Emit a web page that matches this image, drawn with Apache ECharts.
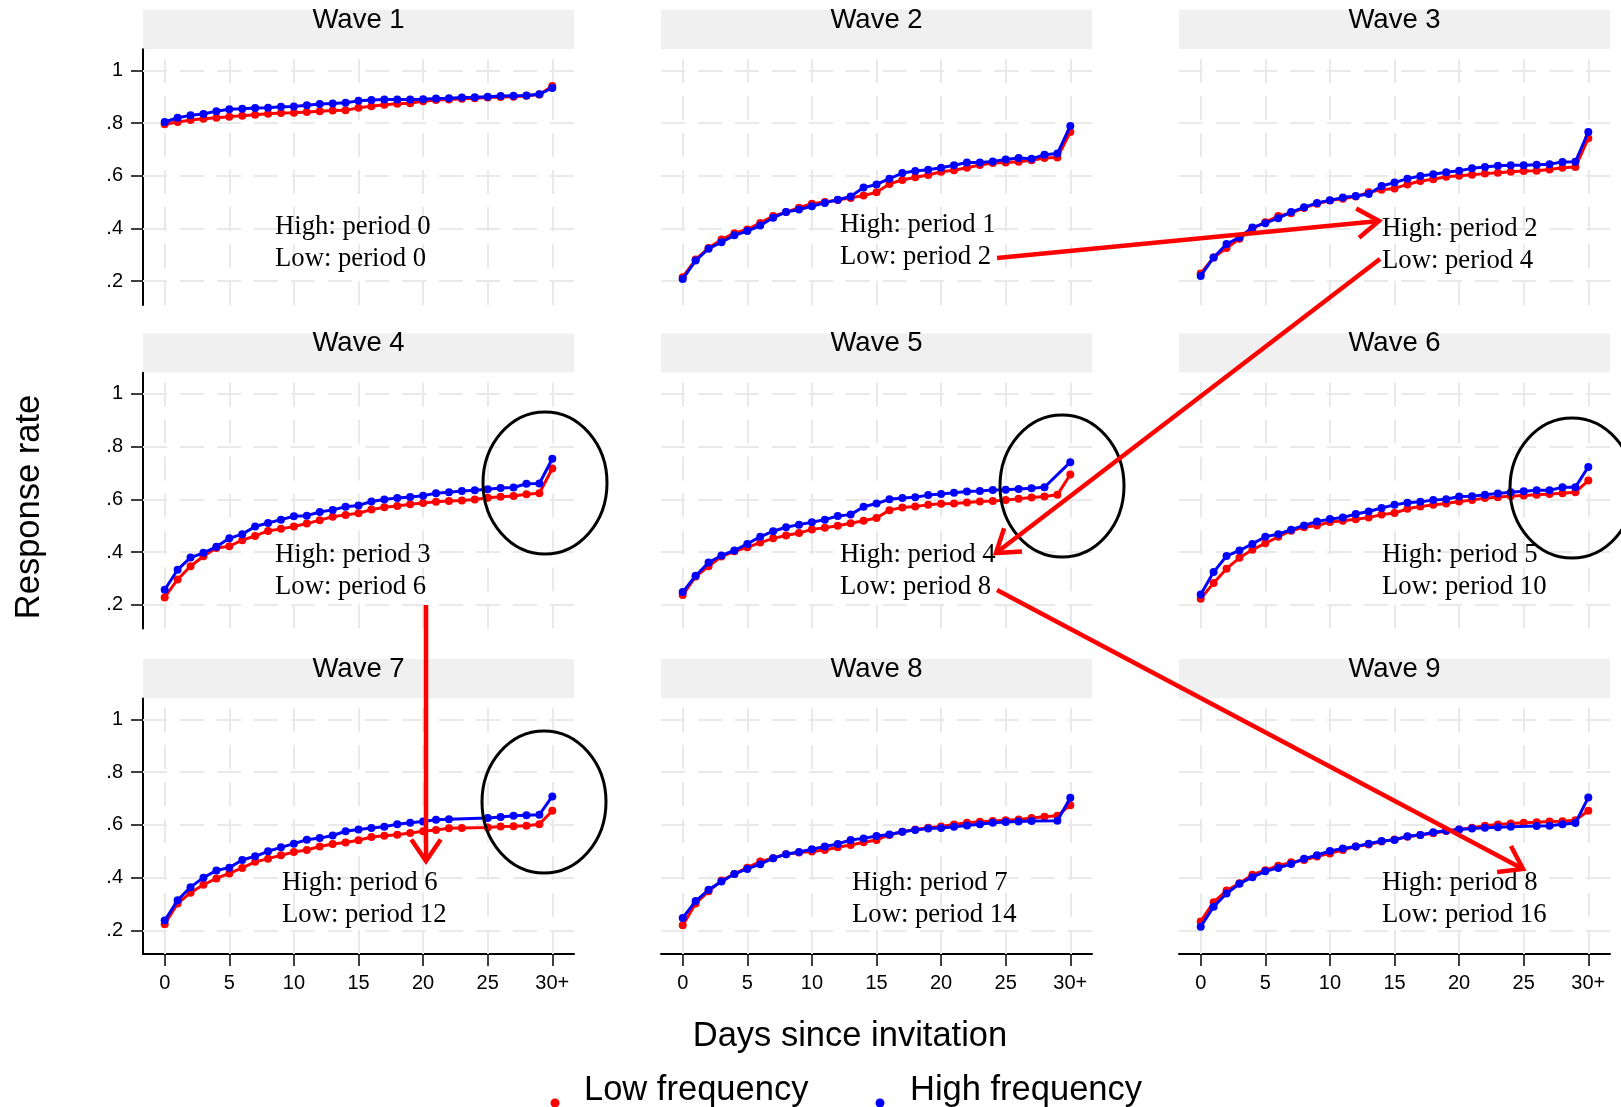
<!DOCTYPE html>
<html>
<head>
<meta charset="utf-8">
<script src="https://cdn.jsdelivr.net/npm/echarts@6/dist/echarts.min.js"></script>
<style>
html,body{margin:0;padding:0;background:#fff;}
#chart{width:1621px;height:1107px;}
</style>
</head>
<body>
<div id="chart"></div>
<script>
// ---------- data ----------
const days = [0,1,2,3,4,5,6,7,8,9,10,11,12,13,14,15,16,17,18,19,20,21,22,23,24,25,26,27,28,29,30];
const xTickValues = [0,5,10,15,20,25,30];
const xTickLabels = ['0','5','10','15','20','25','30+'];
const yTickValues = [0.2,0.4,0.6,0.8,1];
const yTickLabels = ['.2','.4','.6','.8','1'];
const waveTitles = ['Wave 1','Wave 2','Wave 3','Wave 4','Wave 5','Wave 6','Wave 7','Wave 8','Wave 9'];
const highNotes = ['High: period 0','High: period 1','High: period 2','High: period 3','High: period 4','High: period 5','High: period 6','High: period 7','High: period 8'];
const lowNotes = ['Low: period 0','Low: period 2','Low: period 4','Low: period 6','Low: period 8','Low: period 10','Low: period 12','Low: period 14','Low: period 16'];
const legendNames = ['Low frequency','High frequency'];
const axisTitleX = 'Days since invitation';
const axisTitleY = 'Response rate';

const low1 = [0.795,0.804,0.811,0.816,0.820,0.824,0.828,0.831,0.835,0.838,0.839,0.842,0.845,0.847,0.848,0.858,0.864,0.869,0.873,0.875,0.883,0.887,0.889,0.892,0.894,0.897,0.899,0.900,0.903,0.908,0.940];
const high1 = [0.804,0.820,0.829,0.834,0.845,0.852,0.854,0.857,0.858,0.862,0.863,0.867,0.872,0.874,0.877,0.884,0.887,0.889,0.889,0.889,0.890,0.893,0.894,0.897,0.898,0.900,0.902,0.903,0.904,0.909,0.933];
const low2 = [0.215,0.282,0.326,0.358,0.382,0.396,0.421,0.447,0.462,0.479,0.494,0.500,0.508,0.516,0.525,0.537,0.569,0.584,0.594,0.603,0.615,0.621,0.630,0.641,0.648,0.650,0.653,0.659,0.667,0.669,0.766];
const high2 = [0.208,0.278,0.323,0.348,0.374,0.390,0.411,0.441,0.462,0.472,0.484,0.497,0.509,0.521,0.555,0.567,0.589,0.610,0.618,0.623,0.630,0.640,0.650,0.650,0.654,0.662,0.667,0.664,0.680,0.684,0.789];
const low3 = [0.229,0.290,0.326,0.361,0.399,0.424,0.447,0.458,0.478,0.494,0.506,0.513,0.521,0.537,0.547,0.552,0.567,0.580,0.587,0.596,0.600,0.604,0.608,0.611,0.615,0.618,0.619,0.624,0.630,0.633,0.742];
const high3 = [0.220,0.290,0.341,0.366,0.404,0.420,0.439,0.462,0.480,0.497,0.507,0.517,0.523,0.531,0.561,0.574,0.589,0.599,0.606,0.613,0.619,0.628,0.633,0.638,0.640,0.640,0.642,0.644,0.652,0.653,0.766];
const low4 = [0.228,0.296,0.346,0.384,0.415,0.422,0.445,0.461,0.480,0.488,0.497,0.508,0.521,0.534,0.541,0.547,0.561,0.570,0.575,0.581,0.586,0.591,0.594,0.596,0.599,0.606,0.610,0.613,0.619,0.623,0.717];
const high4 = [0.257,0.333,0.379,0.397,0.420,0.452,0.468,0.497,0.510,0.523,0.536,0.538,0.552,0.560,0.572,0.577,0.592,0.599,0.605,0.609,0.614,0.623,0.627,0.632,0.634,0.638,0.643,0.645,0.659,0.660,0.754];
const low5 = [0.237,0.307,0.346,0.383,0.403,0.418,0.436,0.452,0.463,0.472,0.486,0.492,0.500,0.509,0.519,0.529,0.559,0.569,0.573,0.579,0.583,0.584,0.588,0.592,0.594,0.597,0.602,0.607,0.611,0.617,0.694];
const high5 = [0.248,0.310,0.360,0.387,0.406,0.431,0.458,0.479,0.494,0.504,0.513,0.523,0.537,0.542,0.572,0.584,0.600,0.605,0.608,0.616,0.620,0.625,0.630,0.632,0.635,0.636,0.639,0.642,0.646,null,0.741];
const low6 = [0.223,0.283,0.337,0.378,0.409,0.433,0.458,0.481,0.494,0.501,0.514,0.519,0.524,0.531,0.542,0.548,0.564,0.573,0.579,0.584,0.592,0.597,0.605,0.608,0.613,0.615,0.617,0.620,0.623,0.627,0.671];
const high6 = [0.239,0.324,0.385,0.406,0.431,0.458,0.468,0.485,0.501,0.516,0.525,0.531,0.544,0.554,0.567,0.579,0.587,0.591,0.597,0.600,0.611,0.612,0.617,0.622,0.627,0.631,0.634,0.634,0.646,0.646,0.723];
const low7 = [0.223,0.302,0.343,0.373,0.397,0.416,0.437,0.460,0.472,0.485,0.497,0.505,0.518,0.528,0.533,0.542,0.554,0.559,0.563,0.569,0.576,0.581,0.587,0.588,null,0.590,0.594,0.595,0.597,0.603,0.654];
const high7 = [0.237,0.314,0.364,0.400,0.427,0.438,0.467,0.481,0.500,0.515,0.529,0.544,0.550,0.560,0.576,0.583,0.588,0.593,0.603,0.608,0.613,0.620,0.622,null,null,0.626,0.630,0.635,0.637,0.639,0.708];
const low8 = [0.219,0.302,0.348,0.389,0.414,0.438,0.461,0.474,0.489,0.495,0.499,0.505,0.515,0.524,0.534,0.543,0.562,0.574,0.583,0.589,0.594,0.602,0.608,0.612,0.615,0.618,0.621,0.626,0.631,0.635,0.675];
const high8 = [0.247,0.311,0.354,0.385,0.414,0.433,0.451,0.474,0.489,0.497,0.508,0.518,0.528,0.543,0.549,0.558,0.564,0.574,0.581,0.586,0.588,0.593,0.598,0.603,0.608,0.611,0.613,0.615,null,0.616,0.703];
const low9 = [0.234,0.307,0.351,0.379,0.411,0.428,0.445,0.458,0.467,0.480,0.492,0.505,0.518,0.526,0.537,0.545,0.555,0.562,0.568,0.577,0.583,0.589,0.597,0.602,0.605,0.608,0.610,0.613,0.614,0.618,0.654];
const high9 = [0.214,0.290,0.340,0.377,0.402,0.424,0.437,0.452,0.472,0.485,0.501,0.511,0.518,0.529,0.539,0.543,0.557,0.562,0.572,0.578,0.583,0.586,0.589,0.591,0.593,null,0.596,0.597,0.603,0.607,0.704];

const lowSeries = [low1,low2,low3,low4,low5,low6,low7,low8,low9];
const highSeries = [high1,high2,high3,high4,high5,high6,high7,high8,high9];

// ---------- layout / style ----------
const SANS = '"Liberation Sans", Arial, sans-serif';
const SERIF = '"Liberation Serif", "Times New Roman", serif';
const colLeft = [143, 661, 1179];
const rowTop = [49.2, 372.8, 698.4];
const gridW = 431, gridH = 255.7;
const xMin = -1.68, xMax = 31.68, yMin = 0.11, yMax = 1.08;
const RED = '#ff0000', BLUE = '#0000ff';

// note positions (full px)
const noteX = [275, 840, 1382, 275, 840, 1382, 282, 852, 1382];
const noteY = [227, 225, 229, 554.5, 554.5, 554.5, 882.5, 882.5, 882.5];

const grids = [], xAxes = [], yAxes = [], series = [], graphics = [];

function fmtY(v){
  const k = yTickValues.findIndex(t => Math.abs(t - v) < 1e-9);
  return k >= 0 ? yTickLabels[k] : '';
}
function fmtX(v){
  const k = xTickValues.findIndex(t => Math.abs(t - v) < 1e-9);
  return k >= 0 ? xTickLabels[k] : '';
}
function toPairs(arr){ return days.map((d, k) => [d, arr[k] == null ? '-' : arr[k]]); }

for (let i = 0; i < 9; i++) {
  const r = Math.floor(i / 3), c = i % 3;
  grids.push({ left: colLeft[c], top: rowTop[r], width: gridW, height: gridH, containLabel: false });
  xAxes.push({
    gridIndex: i, type: 'value', min: xMin, max: xMax, show: r === 2,
    axisLine: { show: true, onZero: false, lineStyle: { color: '#000', width: 2 } },
    axisTick: { show: true, customValues: xTickValues, length: 12, lineStyle: { color: '#000', width: 1.5 } },
    axisLabel: { show: true, customValues: xTickValues, formatter: fmtX, margin: 19, fontSize: 20, color: '#000', fontFamily: SANS },
    splitLine: { show: false }
  });
  yAxes.push({
    gridIndex: i, type: 'value', min: yMin, max: yMax, show: c === 0,
    axisLine: { show: true, onZero: false, lineStyle: { color: '#000', width: 2 } },
    axisTick: { show: true, customValues: yTickValues, length: 12, lineStyle: { color: '#000', width: 1.5 } },
    axisLabel: { show: true, customValues: yTickValues, formatter: fmtY, margin: 20, fontSize: 20, color: '#000', fontFamily: SANS },
    splitLine: { show: false }
  });
  // gridlines (dashed) through the axes' own scales
  series.push({
    type: 'line', xAxisIndex: i, yAxisIndex: i, data: toPairs(lowSeries[i]), z: 1,
    showSymbol: false, symbol: 'none', silent: true,
    lineStyle: { opacity: 0, width: 0 },
    markLine: {
      silent: true, symbol: ['none', 'none'], z: 1, animation: false,
      label: { show: false },
      lineStyle: { color: '#e9e9e9', width: 2, type: [24, 13] },
      data: xTickValues.map(v => ({ xAxis: v })).concat(yTickValues.map(v => ({ yAxis: v })))
    }
  });
  series.push({
    name: legendNames[0], type: 'line', xAxisIndex: i, yAxisIndex: i, z: 3,
    data: toPairs(lowSeries[i]), connectNulls: true,
    symbol: 'circle', symbolSize: 8, showSymbol: true,
    itemStyle: { color: RED }, lineStyle: { color: RED, width: 3 }
  });
  series.push({
    name: legendNames[1], type: 'line', xAxisIndex: i, yAxisIndex: i, z: 4,
    data: toPairs(highSeries[i]), connectNulls: true,
    symbol: 'circle', symbolSize: 8, showSymbol: true,
    itemStyle: { color: BLUE }, lineStyle: { color: BLUE, width: 3 }
  });
  // strip
  graphics.push({ type: 'rect', shape: { x: colLeft[c], y: rowTop[r] - 39.5, width: gridW, height: 39.3 },
    style: { fill: '#f0f0f0' }, z: 0, silent: true });
  graphics.push({ type: 'text', x: colLeft[c] + gridW / 2, y: rowTop[r] - 29,
    style: { text: waveTitles[i], font: '27.5px ' + SANS, fill: '#000', textAlign: 'center', textVerticalAlign: 'middle' }, z: 10 });
  // notes
  graphics.push({ type: 'text', x: noteX[i], y: noteY[i],
    style: { text: highNotes[i], font: '26.7px ' + SERIF, fill: '#000', textAlign: 'left', textVerticalAlign: 'middle' }, z: 10 });
  graphics.push({ type: 'text', x: noteX[i], y: noteY[i] + 32,
    style: { text: lowNotes[i], font: '26.7px ' + SERIF, fill: '#000', textAlign: 'left', textVerticalAlign: 'middle' }, z: 10 });
}

// ellipses
const ellipses = [[545, 483, 62, 71], [1062, 486, 62, 71], [1572, 488, 62, 70], [544, 802, 62, 71]];
ellipses.forEach(e => graphics.push({ type: 'ellipse', shape: { cx: e[0], cy: e[1], rx: e[2], ry: e[3] },
  style: { fill: 'none', stroke: '#000', lineWidth: 3 }, z: 20, silent: true }));

// arrows
const arrows = [[997, 258, 1379, 221], [1380, 259, 996, 553], [997, 590, 1523, 869], [426, 605, 426, 861]];
arrows.forEach(a => {
  const [x1, y1, x2, y2] = a;
  const ang = Math.atan2(y2 - y1, x2 - x1);
  const L = 26, h = 0.6;
  const p1 = [x2 - L * Math.cos(ang - h), y2 - L * Math.sin(ang - h)];
  const p2 = [x2 - L * Math.cos(ang + h), y2 - L * Math.sin(ang + h)];
  graphics.push({ type: 'line', shape: { x1, y1, x2, y2 }, style: { stroke: RED, lineWidth: 4.5 }, z: 30, silent: true });
  graphics.push({ type: 'polyline', shape: { points: [p1, [x2, y2], p2] },
    style: { stroke: RED, lineWidth: 4.5, fill: 'none', lineJoin: 'miter' }, z: 30, silent: true });
});

// axis titles
graphics.push({ type: 'text', x: 850, y: 1036,
  style: { text: axisTitleX, font: '34.5px ' + SANS, fill: '#000', textAlign: 'center', textVerticalAlign: 'middle' }, z: 10 });
graphics.push({ type: 'text', x: 29, y: 507, rotation: Math.PI / 2,
  style: { text: axisTitleY, font: '34.5px ' + SANS, fill: '#000', textAlign: 'center', textVerticalAlign: 'middle' }, z: 10 });

// legend
graphics.push({ type: 'circle', shape: { cx: 555, cy: 1103, r: 4.5 }, style: { fill: RED }, z: 10 });
graphics.push({ type: 'text', x: 584, y: 1090,
  style: { text: legendNames[0], font: '34.5px ' + SANS, fill: '#000', textAlign: 'left', textVerticalAlign: 'middle' }, z: 10 });
graphics.push({ type: 'circle', shape: { cx: 880, cy: 1103, r: 4.5 }, style: { fill: BLUE }, z: 10 });
graphics.push({ type: 'text', x: 910, y: 1090,
  style: { text: legendNames[1], font: '34.5px ' + SANS, fill: '#000', textAlign: 'left', textVerticalAlign: 'middle' }, z: 10 });

const chart = echarts.init(document.getElementById('chart'), null, { renderer: 'canvas' });
chart.setOption({
  animation: false,
  backgroundColor: '#fff',
  grid: grids,
  xAxis: xAxes,
  yAxis: yAxes,
  series: series,
  graphic: { elements: graphics }
});
</script>
</body>
</html>
